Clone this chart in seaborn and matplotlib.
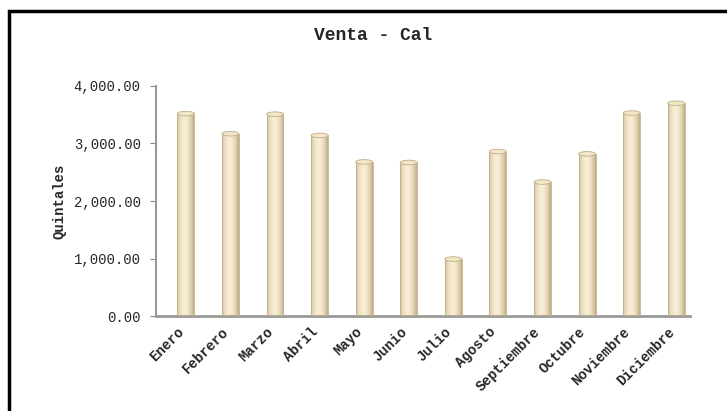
import numpy as np
import matplotlib
matplotlib.use("Agg")
import matplotlib.pyplot as plt
import matplotlib.ticker as mticker
import matplotlib.transforms as mtrans
from matplotlib.patches import Rectangle, Ellipse
import seaborn as sns

meses = ['Enero', 'Febrero', 'Marzo', 'Abril', 'Mayo', 'Junio', 'Julio',
         'Agosto', 'Septiembre', 'Octubre', 'Noviembre', 'Diciembre']
quintales = [3520, 3170, 3510, 3140, 2680, 2670, 990,
             2860, 2330, 2820, 3530, 3700]
yticks = [0, 1000, 2000, 3000, 4000]

sns.set_style("white")
plt.rcParams['font.family'] = ['Liberation Mono', 'DejaVu Sans Mono']

fig = plt.figure(figsize=(7.27, 4.11), dpi=100)
ax = fig.add_axes([156 / 727, 1 - 316 / 411, 534 / 727, 230 / 411])

sns.barplot(x=meses, y=quintales, ax=ax, color='#eadbb3', width=0.38,
            edgecolor='none', saturation=1)

# cylinder shading on each bar
grad = np.linspace(0, 1, 64)
shade = 1 - 0.85 * (2 * np.abs(grad - 0.45)) ** 2
c_dark = np.array([0.76, 0.68, 0.52])
c_light = np.array([0.97, 0.93, 0.83])
img = c_dark[None, :] + (c_light - c_dark)[None, :] * shade[:, None]
img = img[None, :, :]
cap_h = 80
for p in list(ax.patches):
    x0, w, h = p.get_x(), p.get_width(), p.get_height()
    p.set_visible(False)
    im = ax.imshow(img, extent=[x0, x0 + w, 25, h], aspect='auto',
                   zorder=2, interpolation='bilinear')
    clip = Rectangle((x0, 25), w, h - 25, transform=ax.transData)
    im.set_clip_path(clip)
    ax.add_patch(Rectangle((x0, 25), w, h - 25, fill=False,
                           edgecolor='#bfae8a', lw=0.6, zorder=3))
    ax.add_patch(Ellipse((x0 + w / 2, h), w, cap_h, facecolor='#f1e6c6',
                         edgecolor='#bfae8a', lw=0.6, zorder=4))

ax.set_xlim(-0.67, 11.31)
ax.set_ylim(0, 4000)
ax.set_yticks(yticks)
ax.yaxis.set_major_formatter(mticker.FuncFormatter(lambda v, p: format(v, ',.2f')))
ax.tick_params(axis='y', labelsize=10, length=4, width=0.8, color='#888888',
               left=True, pad=7)
ax.tick_params(axis='x', length=0, pad=4)
shift = mtrans.ScaledTranslation(-9 / 100, -3 / 100, fig.dpi_scale_trans)
for lbl in ax.get_xticklabels():
    lbl.set_rotation(45)
    lbl.set_ha('right')
    lbl.set_rotation_mode('anchor')
    lbl.set_fontweight('bold')
    lbl.set_fontsize(10)
    lbl.set_transform(lbl.get_transform() + shift)

for s in ['top', 'right']:
    ax.spines[s].set_visible(False)
ax.spines['left'].set_color('#999999')
ax.spines['left'].set_linewidth(1.5)
ax.spines['bottom'].set_color('#999999')
ax.spines['bottom'].set_linewidth(2)

ax.set_ylabel('Quintales', fontsize=10, fontweight='bold', labelpad=5)
ax.set_xlabel('')

fig.text(373 / 727, 1 - 35 / 411, 'Venta - Cal', ha='center', va='center',
         fontsize=13, fontweight='bold')

# outer frame
fig.patches.append(Rectangle((9 / 727, -0.05), 1.0, 1 - 11 / 411 + 0.05,
                             transform=fig.transFigure, fill=False,
                             edgecolor='black', lw=2.5))

fig.savefig('out.png', dpi=100)
